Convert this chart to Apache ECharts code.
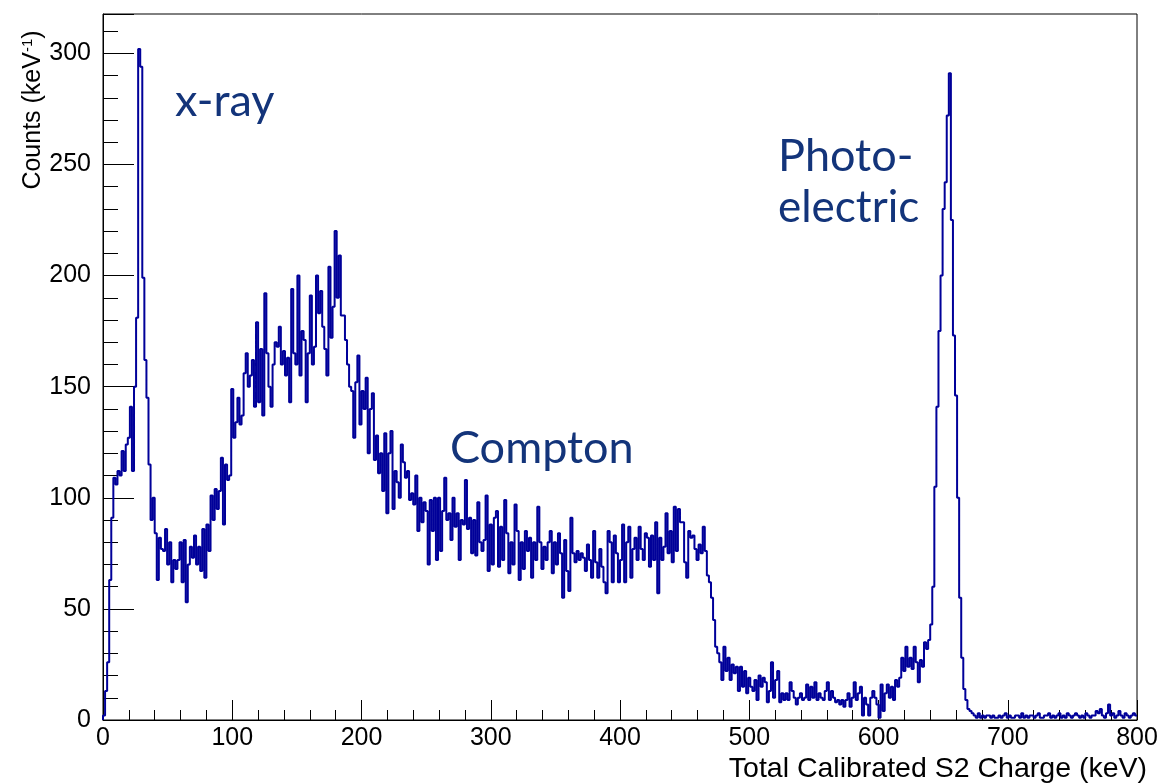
<!DOCTYPE html>
<html><head><meta charset="utf-8">
<script src="https://cdn.jsdelivr.net/npm/echarts@6/dist/echarts.min.js"></script>
<style>html,body{margin:0;padding:0;background:#fff}#c{width:1161px;height:783px}</style>
</head><body><div id="c"></div>
<script>
// Histogram: 500 bins of 1.6 keV from 0 to 800 keV (counts per keV)
const binWidth = 1.6;
const riseAndXray = [2, 13, 26, 63, 91, 109, 106, 112, 110, 121, 112, 124, 127, 141, 112, 150, 181, 302, 294, 199, 162, 145, 115, 90];
const valley = [100,84,63,82,77,76,86,70,80,62, 72,68,72,80,62,81,53,70,78,73, 83,70,78,67,86,64,88,76,101,90, 104,95,103,118,88,115,108,110,149,127, 134,145,133,137,156];
const comptonHump = [165,150,155,162,141,179,143,167,137,192, 165,150,141,160,170,168,177,160,166,155, 163,143,194,165,160,200,155,175,171,143, 165,191,160,168,200,183,193,177,167,155, 204,172,186,220,190,209,182,182,171,160, 150,148,127,152,164,133,148,140,154,120, 140,147,117,128,111,120,103,129,93,120, 130,95,112,107,100];
const comptonShelfA = [124,116,109,112,99,102,97,110,85,100, 89,98,94,70,99,85,100,72,100,76, 94,109,90,93,81,100,87,93,72,90, 88,108,86,91,75,90,74,98,80,76, 81,101,67,88,70,91,94,69,87,72, 99,84,66,80,70,97,85,63,80,68, 85,76,82,64,80,72,96,80,68,78, 72,80,85,66,80,70,84,75,55,81, 67,58,91,75,71,76,72];
const comptonShelfB = [75,73,67,79,72,64,85,71,64,77, 69,62,57,85,80,62,83,75,62,72, 88,62,80,87,64,77,82,72,87,77, 72,84,82,69,83,72,89,57,82,72, 78,93,75,85,71,96,76,95,89,89, 71,64,85,82,83,77,72,79,75,87, 76,65,62,55,45,33,30,26,18,33, 22,28,18,25,21,24,13,24,15,22, 12,19,15,13,18,9,20,15];
const lowPlateau = [19,17,8,13,26,10,18,22,8,12, 9,12,9,17,13,10,7,10,12,9, 10,16,9,15,10,17,9,12,10,9, 13,17,9,13,10,8,9,7,9,6, 9,12,6,10,17,9,12,15,2,10, 7,2,10,13,10,7,1,16,4,12, 16,10,15,9,18,15,19,28,22,33, 24,28,23,33,26,17,27,24,35,32, 36,43];
const photoPeak = [60,105,141,175,200,230,242,272,291,225,173,146,100,55,28,14,9,5,4];
const highTail = [3,2,1,3,1,2,1,2,2,1,2,1,1,2,1,2,3,1,2,1, 1,2,2,1,3,1,2,1,2,2,1,2,3,1,1,2,2,3,1,2, 1,2,3,1,2,1,3,2,1,2,3,2,1,2,1,3,2,1,2,2, 4,3,5,2,1,3,7,2,3,1,2,4,2,1,3,2,1,2,3,2];

const counts = [].concat(riseAndXray, valley, comptonHump, comptonShelfA, comptonShelfB, lowPlateau, photoPeak, highTail);
const histData = [[0, 0]];
counts.forEach((v, i) => histData.push([i * binWidth, v]));
histData.push([counts.length * binWidth, counts[counts.length - 1]]);

const xMin = 0, xMax = 800, xStep = 100;
const yMin = 0, yMax = 317.7, yStep = 50, yMinorStep = 10;

const chart = echarts.init(document.getElementById('c'), null, {renderer: 'canvas'});
const black = '#000';
chart.setOption({
  animation: false,
  grid: {left: 103, top: 14, right: 24, bottom: 63, show: true, borderColor: black, borderWidth: 1, outerBoundsMode: 'none', containLabel: false},
  xAxis: {
    type: 'value', min: xMin, max: xMax, interval: xStep,
    axisLine: {show: true, lineStyle: {color: black, width: 1}},
    axisTick: {show: true, inside: true, length: 20, lineStyle: {color: black, width: 1}},
    minorTick: {show: true, splitNumber: 5, length: 10, lineStyle: {color: black, width: 1}},
    splitLine: {show: false}, minorSplitLine: {show: false},
    axisLabel: {color: black, fontFamily: 'Liberation Sans', fontSize: 25, margin: 6}
  },
  yAxis: [{
    type: 'value', min: yMin, max: yMax, interval: yStep, position: 'left',
    axisLine: {show: true, lineStyle: {color: black, width: 1}},
    axisTick: {show: true, inside: true, length: 31, lineStyle: {color: black, width: 1}},
    splitLine: {show: false},
    axisLabel: {color: black, fontFamily: 'Liberation Sans', fontSize: 25, margin: 12,
      formatter: v => (Math.abs(v % yStep) < 1e-6 ? String(v) : '')}
  }, {
    type: 'value', min: yMin, max: yMax, interval: yMinorStep, position: 'left',
    axisLine: {show: false},
    axisTick: {show: true, inside: true, length: 15, lineStyle: {color: black, width: 1}},
    axisLabel: {show: false}, splitLine: {show: false}
  }],
  series: [{
    type: 'line', step: 'end', data: histData, yAxisIndex: 0,
    showSymbol: false, symbol: 'none', clip: true,
    lineStyle: {color: '#000099', width: 2}
  }],
  graphic: [
    {type: 'text', x: 33, y: 110, rotation: Math.PI / 2,
      style: {text: 'Counts (keV{s|-1})', fill: black, font: '25px "Liberation Sans"', align: 'center', verticalAlign: 'middle',
        rich: {s: {fontSize: 15, fontFamily: 'Liberation Sans', verticalAlign: 'top', fill: black}}}},
    {type: 'text', x: 1147, y: 769,
      style: {text: 'Total Calibrated S2 Charge (keV)', fill: black, font: '28.5px "Liberation Sans"', align: 'right', verticalAlign: 'middle'}},
    {type: 'text', x: 175, y: 101, style: {text: 'x-ray', fill: '#13347a', font: '45px Lato', align: 'left', verticalAlign: 'middle'}},
    {type: 'text', x: 450, y: 448, style: {text: 'Compton', fill: '#13347a', font: '45px Lato', align: 'left', verticalAlign: 'middle'}},
    {type: 'text', x: 778, y: 156, style: {text: 'Photo-', fill: '#13347a', font: '45px Lato', align: 'left', verticalAlign: 'middle'}},
    {type: 'text', x: 778, y: 208, style: {text: 'electric', fill: '#13347a', font: '44px Lato', align: 'left', verticalAlign: 'middle'}}
  ]
});
</script></body></html>
